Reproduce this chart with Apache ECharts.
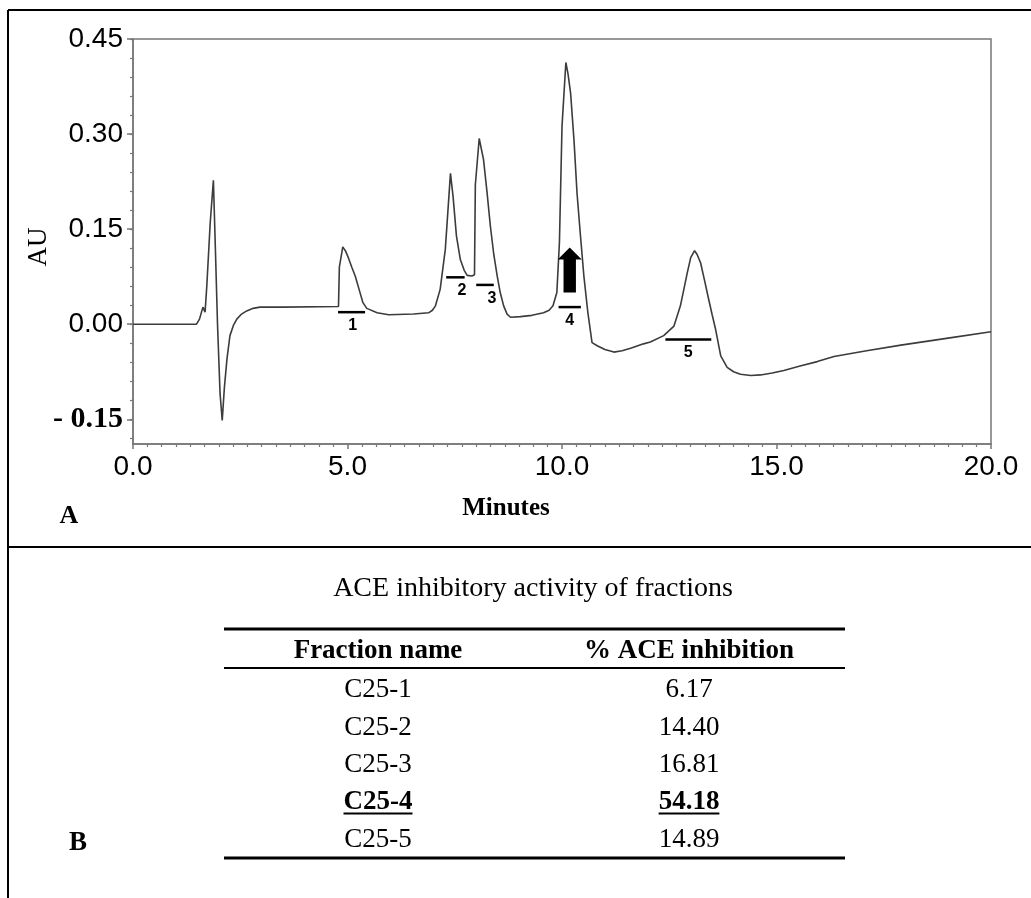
<!DOCTYPE html>
<html>
<head>
<meta charset="utf-8">
<script src="https://cdn.jsdelivr.net/npm/echarts@6/dist/echarts.min.js"></script>
<style>
html,body{margin:0;padding:0;background:#fff;}
#chart{width:1031px;height:898px;}
</style>
</head>
<body>
<div id="chart"></div>
<script>
// ---- chromatogram trace (minutes, AU) ----
const timeMin = [0,1.48,1.55,1.63,1.68,1.72,1.80,1.874,1.92,1.97,2.03,2.08,2.13,2.19,2.26,2.34,2.42,2.53,2.65,2.80,2.96,3.5,4.79,
  4.81,4.89,4.95,5.02,5.10,5.18,5.27,5.36,5.45,5.69,5.96,6.54,6.89,6.98,7.05,7.16,7.28,7.40,7.46,7.54,7.63,7.72,7.79,7.90,7.96,
  7.98,8.07,8.17,8.25,8.33,8.41,8.49,8.56,8.64,8.72,8.80,9.03,9.30,9.57,9.70,9.79,9.88,9.94,10.00,10.09,10.14,10.20,10.28,10.35,
  10.43,10.51,10.60,10.70,10.82,11.0,11.21,11.40,11.60,11.90,12.06,12.37,12.61,12.76,12.92,13.00,13.09,13.15,13.23,13.32,13.42,
  13.50,13.58,13.70,13.85,14.00,14.16,14.40,14.63,14.90,15.17,15.55,15.95,16.34,17.10,17.90,19.00,20.00];
const absorbance = [0,0,0.008,0.027,0.019,0.060,0.160,0.227,0.120,0.000,-0.110,-0.152,-0.100,-0.055,-0.018,-0.002,0.008,0.016,0.021,0.025,0.027,0.027,0.028,
  0.090,0.122,0.116,0.105,0.090,0.076,0.055,0.034,0.025,0.018,0.015,0.016,0.018,0.022,0.029,0.055,0.118,0.238,0.202,0.139,0.102,0.085,0.077,0.076,0.078,
  0.220,0.293,0.260,0.210,0.155,0.110,0.076,0.050,0.029,0.016,0.011,0.012,0.014,0.018,0.022,0.029,0.050,0.129,0.312,0.413,0.395,0.365,0.290,0.207,
  0.140,0.076,0.020,-0.029,-0.034,-0.040,-0.044,-0.042,-0.038,-0.031,-0.028,-0.018,-0.003,0.029,0.081,0.105,0.116,0.110,0.097,0.070,0.039,
  0.015,-0.008,-0.050,-0.068,-0.075,-0.079,-0.081,-0.080,-0.077,-0.073,-0.066,-0.059,-0.051,-0.042,-0.033,-0.022,-0.012];

// ---- collected fractions ----
const fracLabels = ['1','2','3','4','5'];
const fracStart = [4.78, 7.30, 8.00, 9.92, 12.41];
const fracEnd   = [5.41, 7.73, 8.41, 10.44, 13.48];
const fracLevel = [0.019, 0.074, 0.062, 0.027, -0.024];
const fracLabelAt = [5.12, 7.67, 8.37, 10.18, 12.94];

// ---- arrow marking the active fraction ----
const arrowTime = [10.18];
const arrowBase = [0.050];
const arrowTip  = [0.121];

// ---- axes ----
const yTickValues = [-0.15, 0, 0.15, 0.30, 0.45];
const yTickLabels = ['- 0.15', '0.00', '0.15', '0.30', '0.45'];
const yMin = -0.189, yMax = 0.45, yMinorStep = 0.03;
const xMin = 0, xMax = 20, xInterval = 5;

// ---- table B ----
const tableTitle = 'ACE inhibitory activity of fractions';
const tableHeaders = ['Fraction name', '% ACE inhibition'];
const fractionNames = ['C25-1', 'C25-2', 'C25-3', 'C25-4', 'C25-5'];
const inhibitionPct = ['6.17', '14.40', '16.81', '54.18', '14.89'];
const highlightRow = 3;

const yMinorTicks = [];
for (let k = Math.ceil(yMin / yMinorStep - 1e-9); k * yMinorStep <= yMax + 1e-9; k++) yMinorTicks.push(+(k * yMinorStep).toFixed(4));

const trace = timeMin.map((t, i) => [t, absorbance[i]]);
const fracData = fracLabels.map((l, i) => [fracStart[i], fracEnd[i], fracLevel[i], fracLabelAt[i]]);

const AXIS = '#777';
const NUMFONT = "'Liberation Sans Narrow','Arial Narrow','Liberation Sans',sans-serif";
const SERIF = "'Liberation Serif','Times New Roman',serif";

const mctx = document.createElement('canvas').getContext('2d');
function textW(txt, font) { mctx.font = font; return mctx.measureText(txt).width; }

// graphic: frame, panel letters, texts, table
const g = [];
g.push({type:'line', shape:{x1:8, y1:10, x2:1031, y2:10}, style:{stroke:'#000', lineWidth:2}});
g.push({type:'line', shape:{x1:8, y1:10, x2:8, y2:898}, style:{stroke:'#000', lineWidth:2}});
g.push({type:'line', shape:{x1:8, y1:547, x2:1031, y2:547}, style:{stroke:'#000', lineWidth:2}});
g.push({type:'text', x:69, y:516, style:{text:'A', font:'bold 26px ' + SERIF, fill:'#000', align:'center', verticalAlign:'middle'}});
g.push({type:'text', x:78, y:843, style:{text:'B', font:'bold 27px ' + SERIF, fill:'#000', align:'center', verticalAlign:'middle'}});
g.push({type:'text', x:506, y:509, style:{text:'Minutes', font:'bold 25px ' + SERIF, fill:'#000', align:'center', verticalAlign:'middle'}});
g.push({type:'text', x:39, y:247, rotation:Math.PI/2, style:{text:'AU', font:'27px ' + SERIF, fill:'#000', align:'center', verticalAlign:'middle'}});
g.push({type:'text', x:533, y:589, style:{text:tableTitle, font:'28px ' + SERIF, fill:'#000', align:'center', verticalAlign:'middle'}});
const colX = [378, 689];
g.push({type:'line', shape:{x1:224, y1:629, x2:845, y2:629}, style:{stroke:'#000', lineWidth:3}});
g.push({type:'line', shape:{x1:224, y1:668, x2:845, y2:668}, style:{stroke:'#000', lineWidth:2.2}});
g.push({type:'line', shape:{x1:224, y1:858, x2:845, y2:858}, style:{stroke:'#000', lineWidth:3}});
tableHeaders.forEach((h, j) => g.push({type:'text', x:colX[j], y:651, style:{text:h, font:'bold 27px ' + SERIF, fill:'#000', align:'center', verticalAlign:'middle'}}));
fractionNames.forEach((n, i) => {
  const y = 690 + i * 37.5;
  const bold = i === highlightRow;
  [n, inhibitionPct[i]].forEach((txt, j) => {
    const font = (bold ? 'bold ' : '') + '27px ' + SERIF;
    g.push({type:'text', x:colX[j], y:y, style:{text:txt, font:font, fill:'#000', align:'center', verticalAlign:'middle'}});
    if (bold) {
      const w = textW(txt, font);
      g.push({type:'line', shape:{x1:colX[j] - w / 2, y1:y + 11, x2:colX[j] + w / 2, y2:y + 11}, style:{stroke:'#000', lineWidth:1.8}});
    }
  });
});

const chart = echarts.init(document.getElementById('chart'), null, {renderer:'canvas'});
chart.setOption({
  animation: false,
  backgroundColor: '#fff',
  grid: {left:133, right:40, top:39, bottom:454, show:true, borderColor:AXIS, borderWidth:1.5, backgroundColor:'transparent'},
  xAxis: {
    type:'value', min:xMin, max:xMax, interval:xInterval,
    axisLine:{show:true, onZero:false, lineStyle:{color:AXIS, width:1.5}},
    axisTick:{show:true, length:5, lineStyle:{color:AXIS, width:1.5}},
    minorTick:{show:true, splitNumber:15, length:3, lineStyle:{color:AXIS, width:1.2}},
    splitLine:{show:false},
    axisLabel:{margin:9, color:'#000', fontSize:28, fontFamily:NUMFONT, formatter:v => v.toFixed(1)}
  },
  yAxis: [{
    type:'value', min:yMin, max:yMax,
    axisLine:{show:true, lineStyle:{color:AXIS, width:1.5}},
    axisTick:{show:true, length:3, customValues:yMinorTicks, lineStyle:{color:AXIS, width:1.2}},
    splitLine:{show:false},
    axisLabel:{
      margin:10, color:'#000', fontSize:28, fontFamily:NUMFONT, customValues:yTickValues,
      formatter: v => {
        const i = yTickValues.findIndex(t => Math.abs(t - v) < 1e-6);
        if (i < 0) return '';
        return i === 0 ? '{neg|' + yTickLabels[i] + '}' : yTickLabels[i];
      },
      rich:{neg:{fontFamily:SERIF, fontWeight:'bold', fontSize:30, color:'#000'}}
    }
  }, {
    type:'value', min:yMin, max:yMax, position:'left',
    axisLine:{show:false}, splitLine:{show:false}, axisLabel:{show:false},
    axisTick:{show:true, length:6, customValues:yTickValues, lineStyle:{color:AXIS, width:1.5}}
  }],
  graphic: g,
  series: [{
    type:'line', data:trace, showSymbol:false, symbol:'none', smooth:false, clip:false,
    lineStyle:{color:'#3c3c3c', width:1.6}, z:3
  }, {
    type:'custom', data:fracData, z:5, clip:false,
    renderItem: (params, api) => {
      const a = api.coord([api.value(0), api.value(2)]);
      const b = api.coord([api.value(1), api.value(2)]);
      const l = api.coord([api.value(3), api.value(2)]);
      return {type:'group', children:[
        {type:'line', shape:{x1:a[0], y1:a[1], x2:b[0], y2:b[1]}, style:{stroke:'#000', lineWidth:2.5}},
        {type:'text', x:l[0], y:l[1] + 13.5, style:{text:fracLabels[params.dataIndex], fill:'#000', font:"bold 16px 'Liberation Sans',Arial,sans-serif", align:'center', verticalAlign:'middle'}}
      ]};
    }
  }, {
    type:'custom', data:arrowTime.map((t, i) => [t, arrowBase[i], arrowTip[i]]), z:6, clip:false,
    renderItem: (params, api) => {
      const base = api.coord([api.value(0), api.value(1)]);
      const tip = api.coord([api.value(0), api.value(2)]);
      const cx = tip[0], headY = tip[1] + 12, sw = 6.2, hw = 12;
      return {type:'polygon', shape:{points:[[cx, tip[1]], [cx + hw, headY], [cx + sw, headY], [cx + sw, base[1]], [cx - sw, base[1]], [cx - sw, headY], [cx - hw, headY]]}, style:{fill:'#000'}};
    }
  }]
});
</script>
</body>
</html>
